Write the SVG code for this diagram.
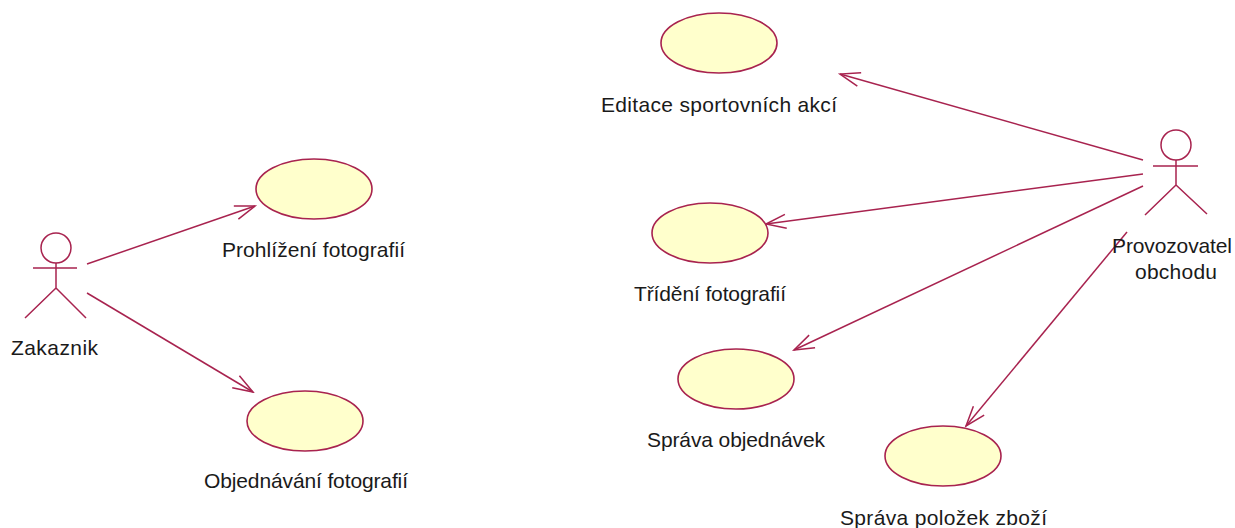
<svg xmlns="http://www.w3.org/2000/svg" width="1235" height="528" viewBox="0 0 1235 528">
<style>
.u{fill:#ffffcc;stroke:#a8234f;stroke-width:1.6}
.a{fill:none;stroke:#a8234f;stroke-width:1.5}
.c{fill:none;stroke:#a8234f;stroke-width:1.5}
text{font-family:"Liberation Sans",sans-serif;font-size:21px;fill:#1a1a1a}
</style>
<defs><marker id="h" viewBox="0 0 24 20" refX="22" refY="10" markerWidth="24" markerHeight="20" markerUnits="userSpaceOnUse" orient="auto"><path d="M2 3L22 10L2 17" fill="none" stroke="#a8234f" stroke-width="1.5"/></marker></defs>
<rect width="1235" height="528" fill="#fff"/>
<g id="connectors">
<path class="c" marker-end="url(#h)" d="M87 264L255 206"/>
<path class="c" marker-end="url(#h)" d="M87 293L253 392"/>
<path class="c" marker-end="url(#h)" d="M1143 160L840 74"/>
<path class="c" marker-end="url(#h)" d="M1143 174L766 224"/>
<path class="c" marker-end="url(#h)" d="M1143 186L794 350"/>
<path class="c" marker-end="url(#h)" d="M1127 232L966 426"/>
</g>
<g id="u1"><ellipse class="u" cx="719" cy="43" rx="58" ry="30"/><text x="601" y="112" textLength="236">Editace sportovních akcí</text></g>
<g id="u2"><ellipse class="u" cx="314" cy="189" rx="58" ry="30"/><text x="222" y="257" textLength="183">Prohlížení fotografií</text></g>
<g id="u3"><ellipse class="u" cx="710" cy="233" rx="58" ry="30"/><text x="634" y="301" textLength="152">Třídění fotografií</text></g>
<g id="u4"><ellipse class="u" cx="736" cy="379" rx="58" ry="30"/><text x="647" y="447" textLength="178">Správa objednávek</text></g>
<g id="u5"><ellipse class="u" cx="305" cy="421" rx="58" ry="30"/><text x="204" y="488" textLength="204">Objednávání fotografií</text></g>
<g id="u6"><ellipse class="u" cx="943" cy="456" rx="58" ry="30"/><text x="840" y="525" textLength="207">Správa položek zboží</text></g>
<g id="a1"><circle class="a" cx="56" cy="248" r="15"/><path class="a" d="M56 263V288M33 268H77M56 288L25 318M56 288L86 318"/><text x="11" y="355" textLength="87">Zakaznik</text></g>
<g id="a2"><circle class="a" cx="1176" cy="145" r="15"/><path class="a" d="M1176 160V185M1153 166H1198M1176 185L1145 215M1176 185L1207 214"/><text x="1112" y="253" textLength="120">Provozovatel</text><text x="1135" y="279" textLength="82">obchodu</text></g>
</svg>
